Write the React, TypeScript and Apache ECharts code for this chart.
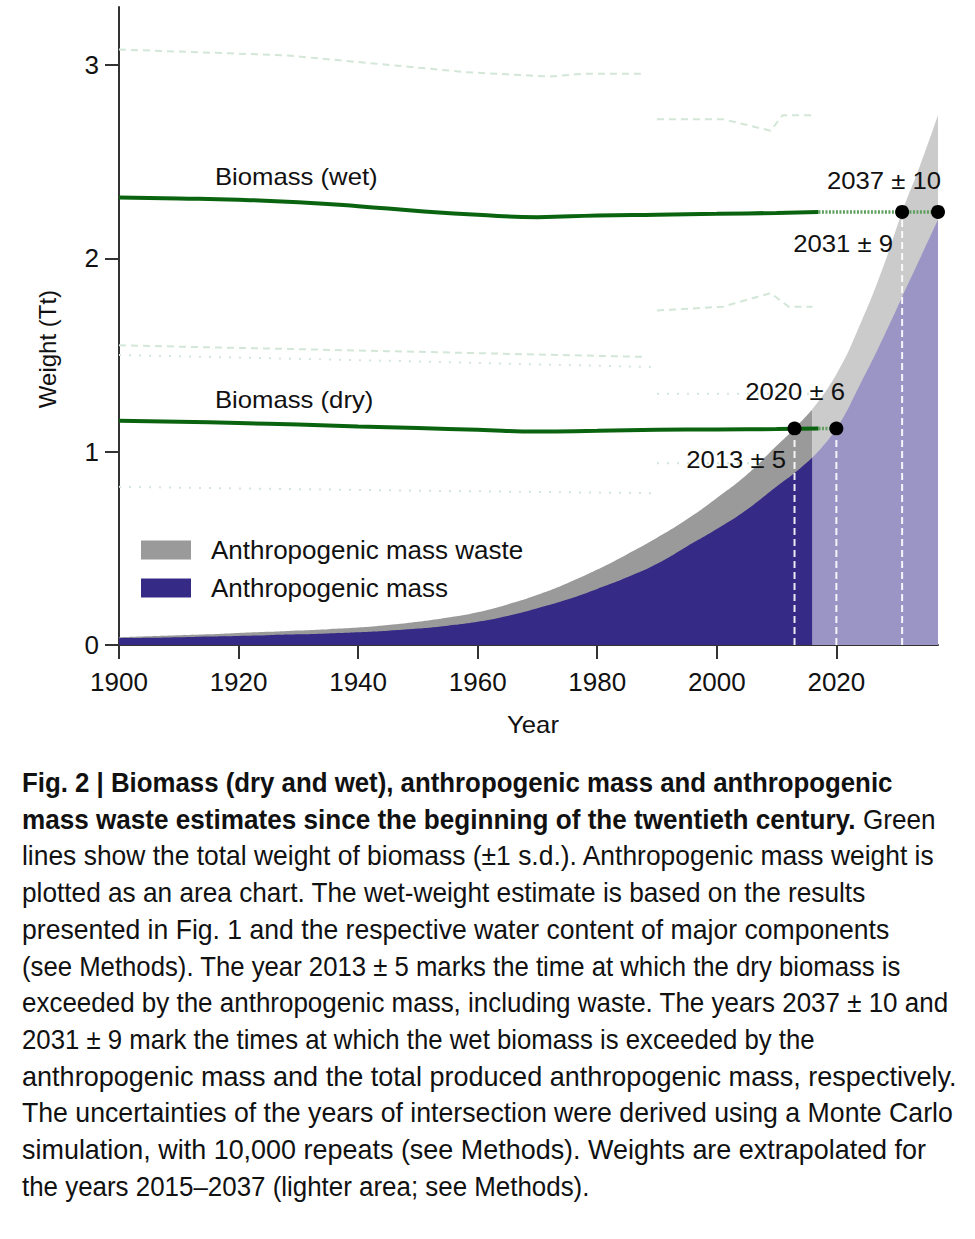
import React, { useEffect, useRef } from 'react';
import * as echarts from 'echarts';

// ---------- axes ----------
const xTicks = [1900, 1920, 1940, 1960, 1980, 2000, 2020];
const yTicks = [0, 1, 2, 3];

// ---------- anthropogenic mass (historical, dark) ----------
const histYears = [1900, 1905, 1910, 1915, 1920, 1925, 1930, 1935, 1940, 1945, 1950, 1955, 1960, 1965, 1970, 1975, 1980, 1985, 1990, 1995, 2000, 2005, 2010, 2013, 2016];
const histMass = [0.035, 0.037, 0.04, 0.044, 0.047, 0.051, 0.055, 0.06, 0.066, 0.074, 0.085, 0.1, 0.12, 0.15, 0.19, 0.235, 0.29, 0.35, 0.42, 0.51, 0.6, 0.7, 0.82, 0.89, 0.97];
const histWaste = [0.005, 0.008, 0.01, 0.011, 0.015, 0.017, 0.02, 0.022, 0.024, 0.029, 0.035, 0.042, 0.05, 0.06, 0.07, 0.085, 0.1, 0.12, 0.135, 0.14, 0.16, 0.18, 0.21, 0.23, 0.25];

// ---------- anthropogenic mass (extrapolated, light) ----------
const extYears = [2016, 2020, 2024, 2028, 2031, 2034, 2037];
const extMass = [0.97, 1.12, 1.35, 1.6, 1.8, 2.0, 2.2];
const extWaste = [0.25, 0.28, 0.31, 0.37, 0.44, 0.48, 0.54];

// ---------- biomass ----------
const bioYears = [1900, 1910, 1920, 1930, 1940, 1950, 1960, 1970, 1980, 1990, 2000, 2010, 2017];
const wetBiomass = [2.315, 2.31, 2.303, 2.29, 2.27, 2.245, 2.225, 2.213, 2.222, 2.226, 2.23, 2.235, 2.24];
const dryBiomass = [1.16, 1.155, 1.148, 1.14, 1.13, 1.122, 1.113, 1.104, 1.108, 1.113, 1.115, 1.117, 1.12];
const wetExtYears = [2017, 2037];
const wetExt = [2.24, 2.24];
const dryExtYears = [2017, 2020];
const dryExt = [1.12, 1.12];

// ---------- faint ±1 s.d. traces ----------
const sdA_years = [1900, 1928, 1958, 1972, 1978, 1988];
const sdA = [3.08, 3.05, 2.963, 2.94, 2.955, 2.955];
const sdB_years = [1990, 2001, 2009, 2011, 2016];
const sdB = [2.72, 2.72, 2.66, 2.74, 2.74];
const sdC_years = [1900, 1945, 1988];
const sdC = [1.55, 1.52, 1.49];
const sdD_years = [1900, 1945, 1990];
const sdD = [1.5, 1.47, 1.437];
const sdE_years = [1990, 2001, 2009, 2012, 2016];
const sdE = [1.73, 1.75, 1.82, 1.75, 1.75];
const sdF_years = [1990, 2016];
const sdF = [1.3, 1.3];
const sdG_years = [1990, 2016];
const sdG = [0.94, 0.94];
const sdH_years = [1900, 1945, 1990];
const sdH = [0.818, 0.8, 0.785];

// ---------- intersections ----------
const crossYears = [2013, 2020, 2031, 2037];
const crossValues = [1.12, 1.12, 2.24, 2.24];
const crossLabels = ['2013 ± 5', '2020 ± 6', '2031 ± 9', '2037 ± 10'];

// ---------- caption ----------
const captionLines: { bold: string; normal: string }[] = [
  { bold: 'Fig. 2 | Biomass (dry and wet), anthropogenic mass and anthropogenic', normal: '' },
  { bold: 'mass waste estimates since the beginning of the twentieth century.', normal: ' Green' },
  { bold: '', normal: 'lines show the total weight of biomass (±1 s.d.). Anthropogenic mass weight is' },
  { bold: '', normal: 'plotted as an area chart. The wet-weight estimate is based on the results' },
  { bold: '', normal: 'presented in Fig. 1 and the respective water content of major components' },
  { bold: '', normal: '(see Methods). The year 2013 ± 5 marks the time at which the dry biomass is' },
  { bold: '', normal: 'exceeded by the anthropogenic mass, including waste. The years 2037 ± 10 and' },
  { bold: '', normal: '2031 ± 9 mark the times at which the wet biomass is exceeded by the' },
  { bold: '', normal: 'anthropogenic mass and the total produced anthropogenic mass, respectively.' },
  { bold: '', normal: 'The uncertainties of the years of intersection were derived using a Monte Carlo' },
  { bold: '', normal: 'simulation, with 10,000 repeats (see Methods). Weights are extrapolated for' },
  { bold: '', normal: 'the years 2015–2037 (lighter area; see Methods).' },
];

const FONT = '"Liberation Sans", Arial, Helvetica, sans-serif';
const CAP_SIZE = 27;
const CAP_LEFT = 22;
const CAP_TOP = 783;
const CAP_STEP = 36.7;
const capRight = [893, 936, 936, 866, 890, 901, 949, 815, 957, 953, 926, 590];

const zip = (xs: number[], ys: number[]) => xs.map((x, i) => [x, ys[i]]);
const add = (a: number[], b: number[]) => a.map((v, i) => v + b[i]);

export default function App() {
  const ref = useRef<HTMLDivElement>(null);

  useEffect(() => {
    document.body.style.margin = '0';
    const chart = echarts.init(ref.current!, null, { renderer: 'svg' });

    const faint = (years: number[], vals: number[], dash: any) => ({
      type: 'line',
      data: zip(years, vals),
      symbol: 'none',
      silent: true,
      smooth: false,
      z: 1,
      lineStyle: { color: '#d2e7d7', width: 2, type: dash },
    });

    const green = '#0a640f';

    // caption measurement
    const ctx = document.createElement('canvas').getContext('2d')!;
    const measure = (t: string, bold: boolean) => {
      ctx.font = `${bold ? 'bold ' : ''}${CAP_SIZE}px ${FONT}`;
      return ctx.measureText(t).width;
    };
    const captionGraphics = captionLines.map((ln, i) => {
      const w = (ln.bold ? measure(ln.bold, true) : 0) + (ln.normal ? measure(ln.normal, false) : 0);
      const target = capRight[i] - CAP_LEFT;
      const parts: string[] = [];
      if (ln.bold) parts.push(`{b|${ln.bold}}`);
      if (ln.normal) parts.push(`{n|${ln.normal}}`);
      return {
        type: 'text',
        x: CAP_LEFT,
        y: CAP_TOP + i * CAP_STEP,
        scaleX: target / w,
        silent: true,
        style: {
          text: parts.join(''),
          verticalAlign: 'middle',
          align: 'left',
          rich: {
            b: { fontFamily: FONT, fontSize: CAP_SIZE, fontWeight: 'bold', fill: '#111' },
            n: { fontFamily: FONT, fontSize: CAP_SIZE, fontWeight: 'normal', fill: '#111' },
          },
        },
      };
    });

    const txt = (text: string, x: number, y: number, align: string) => ({
      type: 'text',
      x,
      y,
      scaleX: 1.07,
      silent: true,
      z: 100,
      style: { text, fontFamily: FONT, fontSize: 24, fill: '#111', align, verticalAlign: 'middle' },
    });

    const option: any = {
      animation: false,
      backgroundColor: '#fff',
      grid: { left: 119, right: 37, top: 7, bottom: 594, containLabel: false },
      xAxis: {
        type: 'value',
        min: 1900,
        max: 2037,
        interval: 20,
        axisLine: { show: true, lineStyle: { color: '#333', width: 2 } },
        axisTick: { show: true, length: 14, lineStyle: { color: '#333', width: 2 }, customValues: xTicks },
        axisLabel: { margin: 24, fontSize: 26, fontFamily: FONT, color: '#111', customValues: xTicks, formatter: (v: number) => String(v) },
        splitLine: { show: false },
      },
      yAxis: {
        type: 'value',
        min: 0,
        max: 3.3,
        interval: 1,
        axisLine: { show: true, lineStyle: { color: '#333', width: 2 } },
        axisTick: { show: true, length: 14, lineStyle: { color: '#333', width: 2 }, customValues: yTicks },
        axisLabel: { margin: 20, fontSize: 26, fontFamily: FONT, color: '#111', customValues: yTicks, formatter: (v: number) => String(v) },
        splitLine: { show: false },
      },
      legend: {
        data: ['Anthropogenic mass waste', 'Anthropogenic mass'],
        orient: 'vertical',
        left: 141,
        top: 537,
        padding: 0,
        itemWidth: 50,
        itemHeight: 19,
        itemGap: 12,
        icon: 'rect',
        selectedMode: false,
        itemStyle: { borderWidth: 0 },
        textStyle: { fontSize: 26, fontFamily: FONT, color: '#111', padding: [0, 0, 0, 15] },
      },
      series: [
        faint(sdA_years, sdA, [7, 5]),
        faint(sdB_years, sdB, [7, 5]),
        faint(sdC_years, sdC, [7, 5]),
        faint(sdD_years, sdD, [2, 8]),
        faint(sdE_years, sdE, [7, 5]),
        faint(sdF_years, sdF, [2, 8]),
        faint(sdG_years, sdG, [2, 8]),
        faint(sdH_years, sdH, [2, 8]),
        {
          name: 'Anthropogenic mass waste',
          type: 'line',
          data: zip(histYears, add(histMass, histWaste)),
          symbol: 'none',
          smooth: true,
          z: 2,
          itemStyle: { color: '#9a9a9a' },
          lineStyle: { width: 0, color: '#9a9a9a' },
          areaStyle: { color: '#9a9a9a', opacity: 1 },
        },
        {
          name: 'Anthropogenic mass',
          type: 'line',
          data: zip(histYears, histMass),
          symbol: 'none',
          smooth: true,
          z: 3,
          itemStyle: { color: '#352a85' },
          lineStyle: { width: 0, color: '#352a85' },
          areaStyle: { color: '#352a85', opacity: 1 },
        },
        {
          name: 'Waste (extrapolated)',
          type: 'line',
          data: zip(extYears, add(extMass, extWaste)),
          symbol: 'none',
          smooth: true,
          z: 2,
          lineStyle: { width: 0 },
          areaStyle: { color: '#cbcbcb', opacity: 1 },
        },
        {
          name: 'Mass (extrapolated)',
          type: 'line',
          data: zip(extYears, extMass),
          symbol: 'none',
          smooth: true,
          z: 3,
          lineStyle: { width: 0 },
          areaStyle: { color: '#9b95c6', opacity: 1 },
        },
        ...crossYears.slice(0, 3).map((yr, i) => ({
          type: 'line',
          data: [[yr, 0], [yr, crossValues[i]]],
          symbol: 'none',
          silent: true,
          z: 4,
          lineStyle: { color: '#ffffff', width: 2, type: [7, 4], opacity: 0.9 },
        })),
        {
          name: 'Biomass (wet)',
          type: 'line',
          data: zip(bioYears, wetBiomass),
          symbol: 'none',
          smooth: true,
          z: 5,
          lineStyle: { color: green, width: 4 },
        },
        {
          name: 'Biomass (dry)',
          type: 'line',
          data: zip(bioYears, dryBiomass),
          symbol: 'none',
          smooth: true,
          z: 5,
          lineStyle: { color: green, width: 4 },
        },
        {
          type: 'line',
          data: zip(wetExtYears, wetExt),
          symbol: 'none',
          z: 5,
          lineStyle: { color: '#5e9e5e', width: 3.5, type: [2, 1.5] },
        },
        {
          type: 'line',
          data: zip(dryExtYears, dryExt),
          symbol: 'none',
          z: 5,
          lineStyle: { color: '#5e9e5e', width: 3.5, type: [2, 1.5] },
        },
        {
          type: 'scatter',
          data: zip(crossYears, crossValues),
          symbol: 'circle',
          symbolSize: 14,
          clip: false,
          z: 6,
          itemStyle: { color: '#000', opacity: 1 },
        },
      ],
      graphic: [
        { type: 'text', x: 47, y: 349, rotation: Math.PI / 2, silent: true,
          style: { text: 'Weight (Tt)', fontFamily: FONT, fontSize: 24, fill: '#111', align: 'center', verticalAlign: 'middle' } },
        txt('Year', 533, 725, 'center'),
        txt('Biomass (wet)', 215, 177, 'left'),
        txt('Biomass (dry)', 215, 400, 'left'),
        txt(crossLabels[3], 941, 181, 'right'),
        txt(crossLabels[2], 893, 244, 'right'),
        txt(crossLabels[1], 845, 392, 'right'),
        txt(crossLabels[0], 786, 460, 'right'),
        ...captionGraphics,
      ],
    };

    chart.setOption(option);
    return () => chart.dispose();
  }, []);

  return <div ref={ref} style={{ width: 975, height: 1239 }} />;
}
